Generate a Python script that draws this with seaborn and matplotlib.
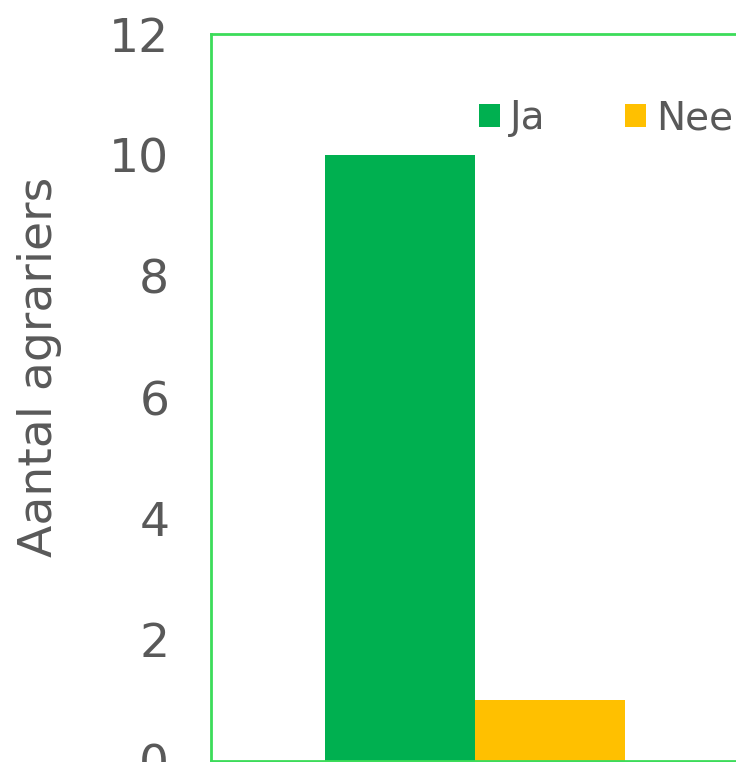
import pandas as pd
import matplotlib.pyplot as plt
import seaborn as sns

# data
categorie = ["Ja", "Nee"]
aantal = [10, 1]
kleuren = {"Ja": "#00B050", "Nee": "#FFC000"}

df = pd.DataFrame({"groep": ["", ""], "antwoord": categorie, "aantal": aantal})

sns.set_style("white")
plt.rcParams['font.family'] = ['DejaVu Sans']

fig = plt.figure(figsize=(7.36, 7.62), dpi=100)
ax = fig.add_axes([211 / 736, 1 / 762, 528 / 736, 727 / 762])

sns.barplot(data=df, x="groep", y="aantal", hue="antwoord", palette=kleuren,
            width=0.8, saturation=1, linewidth=0, ax=ax)

ax.set_xlim(-0.704, 0.704)
ax.set_ylim(0, 12)
ax.set_yticks(range(0, 13, 2))
ax.set_xticks([])
ax.set_xlabel("")
ax.set_ylabel("Aantal agrariers", fontsize=34, color="#595959")
ax.yaxis.set_label_coords(-0.283, 0.542)
ax.tick_params(axis="y", labelsize=34, colors="#595959", length=0, pad=30)

# groene rand rond de plot
for s in ax.spines.values():
    s.set_color("#3CDC5A")
    s.set_linewidth(2)
    s.set_visible(True)

leg = ax.legend(ncol=2, frameon=False, loc="center left",
                bbox_to_anchor=(463 / 736, 1 - 118 / 762), bbox_transform=fig.transFigure,
                fontsize=28, handlelength=0.55, handleheight=0.55, handletextpad=0.25,
                columnspacing=2.05, labelcolor="#595959", borderaxespad=0)

fig.savefig("out.png", dpi=100)
